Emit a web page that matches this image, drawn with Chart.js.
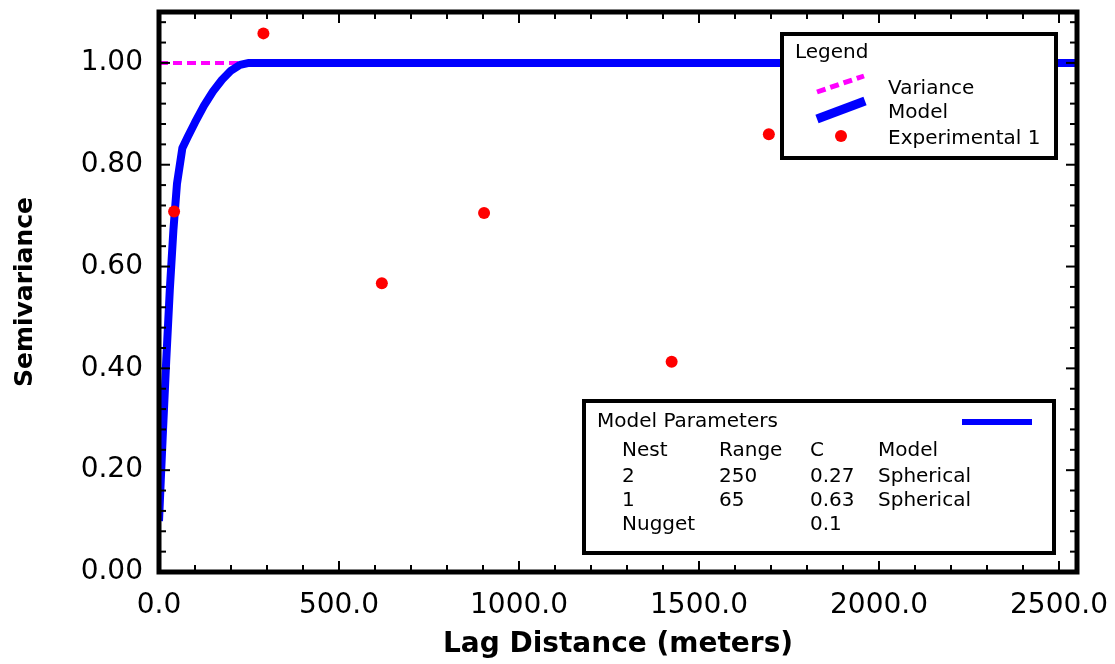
<!DOCTYPE html>
<html lang="en">
<head>
    <meta charset="UTF-8">
    <title>Semivariogram</title>
    <style>
        body { margin: 0; background: #fff; }
        canvas { display: block; }
    </style>
</head>
<body>

    <canvas id="variogram" width="1115" height="664"></canvas>

    <script src="https://cdn.jsdelivr.net/npm/chart.js"></script>

    <script>
        // experimental semivariogram points
        const lagExp = [42, 290, 619, 903, 1424, 1694];
        const semExp = [0.708, 1.058, 0.567, 0.705, 0.413, 0.860];

        // fitted model curve
        const lagModel = [0, 5, 10, 20, 30, 40, 50, 65, 80, 100, 125, 150, 175, 200, 225, 250, 2550];
        const semModel = [0.100, 0.181, 0.261, 0.414, 0.554, 0.672, 0.763, 0.833, 0.855, 0.883, 0.916, 0.944, 0.967, 0.985, 0.996, 1.000, 1.000];

        // sample variance
        const lagVar = [0, 2550];
        const semVar = [1.0, 1.0];

        const xTicks = [0, 500, 1000, 1500, 2000, 2500];
        const yTicks = [0, 0.2, 0.4, 0.6, 0.8, 1.0];

        // model parameter table
        const paramHead = ['Nest', 'Range', 'C', 'Model'];
        const paramNest = ['2', '1', 'Nugget'];
        const paramRange = ['250', '65', ''];
        const paramC = ['0.27', '0.63', '0.1'];
        const paramModel = ['Spherical', 'Spherical', ''];

        const legendNames = ['Variance', 'Model', 'Experimental 1'];

        const toXY = (xs, ys) => xs.map((v, i) => ({ x: v, y: ys[i] }));

        const FONT = '"DejaVu Sans", sans-serif';

        function seg(ctx, x1, y1, x2, y2) {
            ctx.beginPath();
            ctx.moveTo(x1, y1);
            ctx.lineTo(x2, y2);
            ctx.stroke();
        }

        // inward ticks on all four sides, the frame and the two boxes
        const decorations = {
            id: 'decorations',
            afterDatasetsDraw(chart) {
                const ctx = chart.ctx;
                const a = chart.chartArea;
                const x = chart.scales.x;
                const y = chart.scales.y;
                ctx.save();

                ctx.strokeStyle = '#000';
                ctx.lineWidth = 2;
                for (let i = 0; i * 100 <= x.max; i++) {
                    const px = x.getPixelForValue(i * 100);
                    const len = i % 5 === 0 ? 11 : 7;
                    seg(ctx, px, a.bottom, px, a.bottom - len);
                    seg(ctx, px, a.top, px, a.top + len);
                }
                for (let i = 0; i * 0.04 <= y.max; i++) {
                    const py = y.getPixelForValue(i * 0.04);
                    const len = i % 5 === 0 ? 11 : 7;
                    seg(ctx, a.left, py, a.left + len, py);
                    seg(ctx, a.right, py, a.right - len, py);
                }

                ctx.lineWidth = 5;
                ctx.strokeRect(a.left, a.top, a.right - a.left, a.bottom - a.top);

                ctx.font = '20px ' + FONT;
                ctx.textBaseline = 'middle';
                ctx.textAlign = 'left';

                // legend box
                ctx.fillStyle = '#fff';
                ctx.fillRect(782, 34, 274, 124);
                ctx.lineWidth = 4;
                ctx.strokeRect(782, 34, 274, 124);
                ctx.fillStyle = '#000';
                ctx.fillText('Legend', 795, 53);

                ctx.strokeStyle = '#ff00ff';
                ctx.lineWidth = 5;
                ctx.setLineDash([9, 5]);
                seg(ctx, 817, 92, 864, 76);
                ctx.setLineDash([]);
                ctx.strokeStyle = '#0000ff';
                ctx.lineWidth = 9;
                seg(ctx, 817, 119, 865, 101);
                ctx.fillStyle = '#ff0000';
                ctx.beginPath();
                ctx.arc(841, 136, 6, 0, Math.PI * 2);
                ctx.fill();

                ctx.fillStyle = '#000';
                ctx.fillText(legendNames[0], 888, 89);
                ctx.fillText(legendNames[1], 888, 113);
                ctx.fillText(legendNames[2], 888, 139);

                // model parameters box
                ctx.fillStyle = '#fff';
                ctx.fillRect(584, 401, 470, 152);
                ctx.strokeStyle = '#000';
                ctx.lineWidth = 4;
                ctx.strokeRect(584, 401, 470, 152);
                ctx.fillStyle = '#000';
                ctx.fillText('Model Parameters', 597, 422);
                ctx.strokeStyle = '#0000ff';
                ctx.lineWidth = 6;
                seg(ctx, 962, 422, 1032, 422);

                const cols = [622, 719, 810, 878];
                paramHead.forEach((t, i) => ctx.fillText(t, cols[i], 451));
                const rowsY = [477, 501, 525];
                paramNest.forEach((n, r) => {
                    ctx.fillText(n, cols[0], rowsY[r]);
                    ctx.fillText(paramRange[r], cols[1], rowsY[r]);
                    ctx.fillText(paramC[r], cols[2], rowsY[r]);
                    ctx.fillText(paramModel[r], cols[3], rowsY[r]);
                });

                ctx.restore();
            }
        };

        new Chart(document.getElementById('variogram'), {
            type: 'scatter',
            data: {
                datasets: [
                    {
                        label: 'Experimental 1',
                        data: toXY(lagExp, semExp),
                        backgroundColor: '#ff0000',
                        borderColor: '#ff0000',
                        pointStyle: 'circle',
                        pointRadius: 6,
                        borderWidth: 0
                    },
                    {
                        label: 'Model',
                        data: toXY(lagModel, semModel),
                        showLine: true,
                        borderColor: '#0000ff',
                        borderWidth: 8,
                        borderJoinStyle: 'round',
                        pointRadius: 0
                    },
                    {
                        label: 'Variance',
                        data: toXY(lagVar, semVar),
                        showLine: true,
                        borderColor: '#ff00ff',
                        borderWidth: 4,
                        borderDash: [9, 5],
                        pointRadius: 0
                    }
                ]
            },
            options: {
                responsive: false,
                animation: false,
                layout: { padding: { top: 12, right: 38, left: 0, bottom: 0 } },
                plugins: {
                    legend: { display: false },
                    tooltip: { enabled: false }
                },
                scales: {
                    x: {
                        type: 'linear',
                        min: 0,
                        max: 2550,
                        afterBuildTicks: s => { s.ticks = xTicks.map(v => ({ value: v })); },
                        afterFit: s => { s.height = 92; s.paddingLeft = 0; s.paddingRight = 0; },
                        grid: { display: false, drawTicks: false },
                        border: { display: false },
                        ticks: {
                            color: '#000',
                            font: { family: FONT, size: 28 },
                            padding: 17,
                            maxRotation: 0,
                            autoSkip: false,
                            callback: v => v.toFixed(1)
                        },
                        title: {
                            display: true,
                            text: 'Lag Distance (meters)',
                            color: '#000',
                            font: { family: FONT, size: 28, weight: 'bold' },
                            padding: { top: 0, bottom: 2 }
                        }
                    },
                    y: {
                        min: 0,
                        max: 1.1,
                        afterBuildTicks: s => { s.ticks = yTicks.map(v => ({ value: v })); },
                        afterFit: s => { s.width = 159; s.paddingTop = 0; s.paddingBottom = 0; },
                        grid: { display: false, drawTicks: false },
                        border: { display: false },
                        ticks: {
                            color: '#000',
                            font: { family: FONT, size: 28 },
                            padding: 16,
                            callback: v => v.toFixed(2)
                        },
                        title: {
                            display: true,
                            text: 'Semivariance',
                            color: '#000',
                            font: { family: FONT, size: 25, weight: 'bold' },
                            padding: { top: 10, bottom: 0 }
                        }
                    }
                }
            },
            plugins: [decorations]
        });
    </script>

</body>
</html>
